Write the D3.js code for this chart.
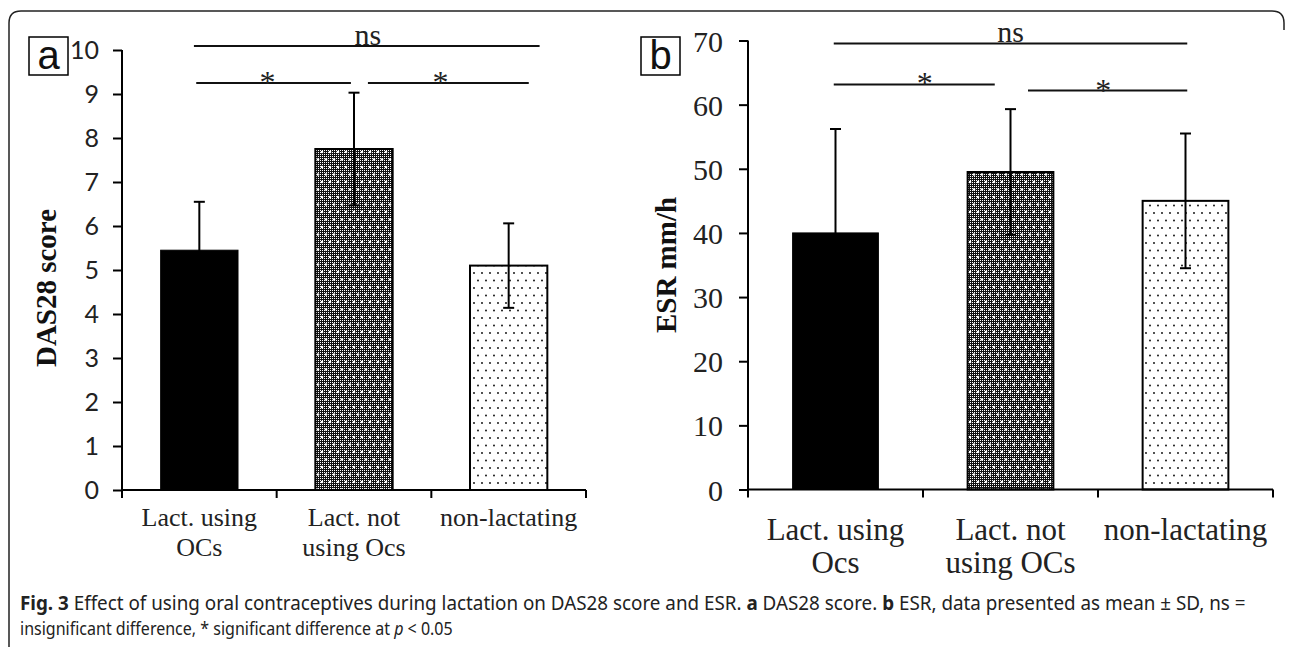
<!DOCTYPE html>
<html>
<head>
<meta charset="utf-8">
<script src="https://cdn.jsdelivr.net/npm/d3@7"></script>
<style>
  body { margin: 0; background: #fff; }
  svg { display: block; }
</style>
</head>
<body>
<script>
// categories per panel (each label is split in lines)
const catsA = [["Lact. using", "OCs"], ["Lact. not", "using Ocs"], ["non-lactating"]];
const catsB = [["Lact. using", "Ocs"], ["Lact. not", "using OCs"], ["non-lactating"]];

// DAS28 score, mean and SD
const das28Mean = [5.45, 7.75, 5.1];
const das28SD = [1.1, 1.28, 0.96];

// ESR mm/h, mean and SD
const esrMean = [40, 49.5, 45];
const esrSD = [16.2, 9.8, 10.5];

const ticksA = [0, 1, 2, 3, 4, 5, 6, 7, 8, 9, 10];
const ticksB = [0, 10, 20, 30, 40, 50, 60, 70];

// significance brackets: from/to = [band index, fraction of band]
const sigA = [
  { label: "ns", y: 10.09, from: [0, 0.465], to: [2, 0.70], tx: [1, 0.59] },
  { label: "*", y: 9.25, from: [0, 0.48], to: [1, 0.48], tx: [0, 0.94] },
  { label: "*", y: 9.25, from: [1, 0.59], to: [2, 0.63], tx: [2, 0.06] }
];
const sigB = [
  { label: "ns", y: 69.55, from: [0, 0.49], to: [2, 0.51], tx: [1, 0.5] },
  { label: "*", y: 63.15, from: [0, 0.49], to: [1, 0.41], tx: [1, 0.01] },
  { label: "*", y: 62.2, from: [1, 0.60], to: [2, 0.51], tx: [2, 0.03] }
];

const W = 1292, H = 647;
const svg = d3.select("body").append("svg").attr("width", W).attr("height", H);

// patterns
const defs = svg.append("defs");
const checker = defs.append("pattern").attr("id", "checker").attr("patternUnits", "userSpaceOnUse")
  .attr("width", 2).attr("height", 2);
checker.append("rect").attr("width", 2).attr("height", 2).attr("fill", "#111");
checker.append("rect").attr("width", 1).attr("height", 1).attr("fill", "#fff");
const wdots = defs.append("pattern").attr("id", "wdots").attr("patternUnits", "userSpaceOnUse")
  .attr("width", 8).attr("height", 15);
wdots.append("circle").attr("cx", 2).attr("cy", 2).attr("r", 1.3).attr("fill", "#fff");
wdots.append("circle").attr("cx", 6).attr("cy", 9.5).attr("r", 1.3).attr("fill", "#fff");
const bdots = defs.append("pattern").attr("id", "bdots").attr("patternUnits", "userSpaceOnUse")
  .attr("width", 8).attr("height", 15);
bdots.append("rect").attr("width", 8).attr("height", 15).attr("fill", "#fff");
bdots.append("circle").attr("cx", 2).attr("cy", 3).attr("r", 0.9).attr("fill", "#000");
bdots.append("circle").attr("cx", 6).attr("cy", 10.5).attr("r", 0.9).attr("fill", "#000");

// outer frame
svg.append("path")
  .attr("d", "M9,647 L9,23 Q9,11 21,11 L1272,11 Q1284,11 1284,23 L1284,30")
  .attr("fill", "none").attr("stroke", "#222").attr("stroke-width", 1.5);

function drawPanel(p) {
  const g = svg.append("g");
  const x = d3.scaleBand().domain(d3.range(p.cats.length)).range(p.xr).padding(0);
  const y = d3.scaleLinear().domain([0, p.ticks[p.ticks.length - 1]]).range(p.yr);
  const bw = x.bandwidth();
  const barW = bw * p.barFrac;
  const fills = ["#000", "url(#checker)", "url(#bdots)"];

  // bars
  p.mean.forEach((m, i) => {
    const x0 = x(i) + (bw - barW) / 2;
    g.append("rect").attr("x", x0).attr("y", y(m)).attr("width", barW).attr("height", y(0) - y(m))
      .attr("fill", fills[i]).attr("stroke", "#000").attr("stroke-width", i === 0 ? 1 : 2);
    if (i === 1) {
      g.append("rect").attr("x", x0 + 1).attr("y", y(m) + 1).attr("width", barW - 2).attr("height", y(0) - y(m) - 2)
        .attr("fill", "url(#wdots)");
    }
  });

  // error bars
  p.mean.forEach((m, i) => {
    const cx = x(i) + bw / 2;
    const lo = y(m - p.sd[i]), hi = y(m + p.sd[i]);
    g.append("line").attr("x1", cx).attr("x2", cx).attr("y1", lo).attr("y2", hi)
      .attr("stroke", "#000").attr("stroke-width", 2);
    [lo, hi].forEach(v => g.append("line").attr("x1", cx - 5.5).attr("x2", cx + 5.5).attr("y1", v).attr("y2", v)
      .attr("stroke", "#000").attr("stroke-width", 2));
  });

  // y axis
  const ya = g.append("g").attr("transform", `translate(${p.xr[0]},0)`)
    .call(d3.axisLeft(y).tickValues(p.ticks).tickSize(9).tickSizeOuter(0).tickPadding(p.tickPad));
  ya.select(".domain").attr("stroke-width", 2).attr("d", `M0,${p.yr[1]}V${p.yr[0]}`);
  ya.selectAll(".tick line").attr("stroke-width", 2);
  ya.selectAll(".tick text").attr("font-family", p.tickFont).attr("font-size", p.tickSize).attr("fill", "#222")
    .attr("dy", "0.35em");

  // x axis line and ticks at band edges
  g.append("line").attr("x1", p.xr[0] - 1).attr("x2", p.xr[1]).attr("y1", y(0)).attr("y2", y(0))
    .attr("stroke", "#000").attr("stroke-width", 2);
  d3.range(p.cats.length + 1).forEach(i => {
    const xe = i < p.cats.length ? x(i) : p.xr[1];
    g.append("line").attr("x1", xe).attr("x2", xe).attr("y1", y(0)).attr("y2", y(0) + 8)
      .attr("stroke", "#000").attr("stroke-width", 2);
  });

  // category labels
  p.cats.forEach((lines, i) => {
    lines.forEach((t, k) => {
      g.append("text").attr("x", x(i) + bw / 2).attr("y", p.catY + k * p.catLH)
        .attr("text-anchor", "middle").attr("font-family", "Liberation Serif, Times New Roman, serif")
        .attr("font-size", p.catSize).attr("fill", "#222").text(t);
    });
  });

  // y label
  g.append("text").attr("transform", `translate(${p.ylab[0]},${p.ylab[1]}) rotate(-90)`)
    .attr("text-anchor", "middle").attr("font-family", "Liberation Serif, Times New Roman, serif")
    .attr("font-weight", "bold").attr("font-size", p.ylabSize).attr("fill", "#111").text(p.ylabel);

  // panel letter box
  g.append("rect").attr("x", p.box[0]).attr("y", 37).attr("width", 39).attr("height", 38)
    .attr("fill", "#fff").attr("stroke", "#000").attr("stroke-width", 1.5);
  g.append("text").attr("x", p.box[0] + 19.5).attr("y", 69).attr("text-anchor", "middle")
    .attr("font-family", "Liberation Sans, Arial, sans-serif").attr("font-size", 40).attr("fill", "#111").text(p.letter);

  // significance brackets
  const bx = a => x(a[0]) + a[1] * bw;
  p.sig.forEach(s => {
    g.append("line").attr("x1", bx(s.from)).attr("x2", bx(s.to)).attr("y1", y(s.y)).attr("y2", y(s.y))
      .attr("stroke", "#111").attr("stroke-width", 2);
    const isNs = s.label === "ns";
    g.append("text").attr("x", bx(s.tx)).attr("y", y(s.y) + (isNs ? -1 : 10)).attr("text-anchor", "middle")
      .attr("font-family", "Liberation Serif, Times New Roman, serif")
      .attr("font-size", isNs ? 30 : 32).attr("fill", "#222").text(s.label);
  });
}

drawPanel({
  cats: catsA, mean: das28Mean, sd: das28SD, ticks: ticksA,
  xr: [122, 586], yr: [490, 50], barFrac: 0.5,
  tickFont: "Lato, Open Sans, sans-serif", tickSize: 25, tickPad: 14,
  catY: 526, catLH: 30, catSize: 26,
  ylab: [56, 288], ylabSize: 29, ylabel: "DAS28 score",
  box: [29], letter: "a", sig: sigA
});

drawPanel({
  cats: catsB, mean: esrMean, sd: esrSD, ticks: ticksB,
  xr: [748, 1273], yr: [489.5, 40.5], barFrac: 0.49,
  tickFont: "Liberation Serif, Times New Roman, serif", tickSize: 30, tickPad: 16,
  catY: 540, catLH: 33, catSize: 31,
  ylab: [676, 265], ylabSize: 29, ylabel: "ESR mm/h",
  box: [641], letter: "b", sig: sigB
});

// caption: natural text squeezed horizontally to the reference width
function captionLine(yPos, width, parts) {
  const t = svg.append("text").attr("font-family", "Noto Sans, Open Sans, sans-serif")
    .attr("font-size", 19).attr("fill", "#222");
  parts.forEach(([txt, style]) => {
    const s = t.append("tspan").text(txt);
    if (style === "b") s.attr("font-weight", "bold");
    if (style === "i") s.attr("font-style", "italic");
  });
  const nat = t.node().getComputedTextLength();
  t.attr("transform", `translate(20,${yPos}) scale(${width / nat},1)`);
}
captionLine(610, 1226, [
  ["Fig. 3", "b"],
  [" Effect of using oral contraceptives during lactation on DAS28 score and ESR. "],
  ["a", "b"], [" DAS28 score. "], ["b", "b"],
  [" ESR, data presented as mean \u00b1 SD, ns ="]
]);
captionLine(635, 433, [
  ["insignificant difference, * significant difference at "], ["p", "i"], [" < 0.05"]
]);
</script>
</body>
</html>
